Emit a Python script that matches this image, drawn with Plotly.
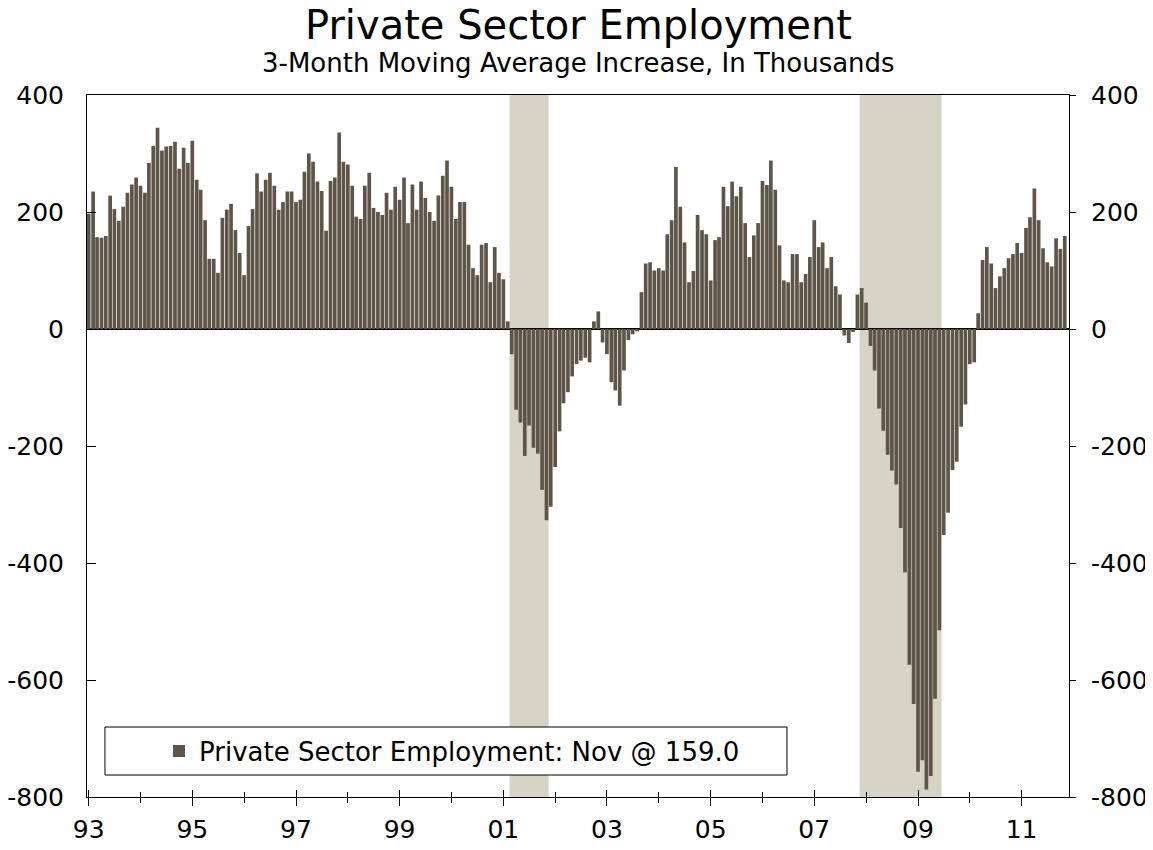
import plotly.graph_objects as go
import pandas as pd

# monthly 3-month moving average change, thousands (Jan 1993 - Nov 2011)
y1993 = [197, 235, 157, 156, 159, 228, 205, 185, 209, 233, 247, 259]
y1994 = [245, 233, 284, 313, 344, 305, 312, 313, 320, 274, 310, 284]
y1995 = [322, 255, 238, 186, 120, 120, 96, 190, 204, 214, 169, 130]
y1996 = [92, 176, 205, 266, 235, 255, 267, 245, 204, 217, 235, 235]
y1997 = [217, 221, 269, 300, 286, 252, 236, 168, 253, 259, 336, 286]
y1998 = [281, 245, 192, 188, 245, 267, 207, 200, 195, 233, 204, 243]
y1999 = [221, 259, 181, 247, 204, 252, 224, 200, 185, 228, 262, 288]
y2000 = [243, 188, 217, 217, 144, 104, 92, 144, 147, 80, 140, 96]
y2001 = [85, 13, -43, -138, -160, -217, -165, -203, -213, -275, -327, -304]
y2002 = [-236, -175, -127, -108, -81, -60, -54, -49, -57, 13, 30, -23]
y2003 = [-43, -91, -105, -131, -71, -19, -9, -4, 63, 112, 114, 100]
y2004 = [104, 100, 162, 186, 277, 209, 148, 80, 99, 195, 169, 162]
y2005 = [83, 152, 157, 243, 210, 252, 227, 243, 181, 123, 160, 181]
y2006 = [253, 246, 288, 238, 143, 83, 80, 128, 128, 80, 94, 123]
y2007 = [186, 140, 148, 104, 123, 73, 59, -11, -24, -5, 59, 70]
y2008 = [45, -29, -71, -136, -174, -215, -242, -266, -340, -416, -574, -641]
y2009 = [-757, -737, -787, -764, -632, -515, -352, -314, -241, -227, -167, -129]
y2010 = [-60, -57, 27, 118, 140, 112, 70, 90, 104, 121, 128, 147]
y2011 = [130, 173, 191, 240, 186, 138, 114, 107, 155, 137, 159]

# recessions (first and last month)
rec_start = ["2001-03", "2007-12"]
rec_end = ["2001-11", "2009-06"]

# y tick labels use a plain hyphen like the original
y_ticks = [400, 200, 0, -200, -400, -600, -800]
y_labels = ["400", "200", "0", "-200", "-400", "-600", "-800"]

values = (y1993 + y1994 + y1995 + y1996 + y1997 + y1998 + y1999 + y2000 + y2001 + y2002
          + y2003 + y2004 + y2005 + y2006 + y2007 + y2008 + y2009 + y2010 + y2011)
months = pd.date_range("1993-01-01", periods=len(values), freq="MS")

bar_color = "#5E5448"
shade = "#D7D3C7"
font = "DejaVu Sans"
day = 24 * 3600 * 1000

fig = go.Figure()
fig.add_trace(go.Bar(x=months, y=values, marker_color=bar_color, marker_line_width=0,
                     width=[26 * day] * len(values),
                     name="Private Sector Employment: Nov @ 159.0"))
# invisible copy so the right-hand axis and inner ticks get drawn
fig.add_trace(go.Scatter(x=months, y=values, xaxis="x2", yaxis="y2", mode="lines",
                         line=dict(width=0), opacity=0, showlegend=False, hoverinfo="skip"))

for s, e in zip(rec_start, rec_end):
    x0 = pd.Timestamp(s + "-01") - pd.Timedelta(days=15)
    x1 = pd.Timestamp(e + "-01") + pd.Timedelta(days=15)
    fig.add_shape(type="rect", xref="x", yref="paper", x0=x0, x1=x1, y0=0, y1=1,
                  fillcolor=shade, line_width=0, layer="below")

# legend box
fig.add_shape(type="rect", xref="paper", yref="paper", x0=0.0183, x1=0.7128, y0=0.0313, y1=0.0997,
              fillcolor="white", line=dict(color="black", width=1), layer="above")

xr = ["1992-12-20", "2011-12-01"]
fig.update_layout(
    width=1145, height=842,
    margin=dict(l=79, r=84, t=87, b=53),
    plot_bgcolor="white", paper_bgcolor="white",
    font=dict(family=font, size=25, color="black"),
    showlegend=True,
    legend=dict(x=0.3717, y=0.0655, xanchor="center", yanchor="middle",
                bgcolor="rgba(0,0,0,0)", font=dict(size=26)),
    xaxis=dict(type="date", range=xr, tick0="1993-01-01", dtick="M24", tickformat="%y",
               ticks="outside", ticklen=8, tickcolor="black", showline=True, linecolor="black",
               mirror=True, showgrid=False, zeroline=False, automargin=False,
               ticklabelstandoff=2,
               minor=dict(dtick="M12", tick0="1993-01-01", ticks="outside", ticklen=5,
                          tickcolor="black", showgrid=False)),
    xaxis2=dict(type="date", range=xr, overlaying="x", anchor="y2", side="bottom",
                tick0="1993-01-01", dtick="M24", ticks="inside", ticklen=7, tickcolor="black",
                showticklabels=False, showgrid=False, showline=False, zeroline=False,
                automargin=False,
                minor=dict(dtick="M12", tick0="1993-01-01", ticks="inside", ticklen=5,
                           tickcolor="black", showgrid=False)),
    yaxis=dict(range=[-800, 400], tickvals=y_ticks, ticktext=y_labels, ticks="inside",
               ticklen=9, tickcolor="black", showline=True, linecolor="black", showgrid=False,
               zeroline=True, zerolinecolor="black", zerolinewidth=1.5, ticklabelstandoff=17,
               automargin=False),
    yaxis2=dict(range=[-800, 400], tickvals=y_ticks, ticktext=y_labels, overlaying="y",
                side="right", anchor="x", ticks="outside", ticklen=6, tickcolor="black",
                showline=True, linecolor="black", showgrid=False, zeroline=False,
                ticklabelstandoff=10, automargin=False),
    annotations=[
        dict(text="Private Sector Employment", xref="paper", yref="paper", x=0.5, y=1.0997,
             xanchor="center", yanchor="middle", showarrow=False, font=dict(size=40)),
        dict(text="3-Month Moving Average Increase, In Thousands", xref="paper", yref="paper",
             x=0.5, y=1.0456, xanchor="center", yanchor="middle", showarrow=False,
             font=dict(size=26)),
    ],
)

fig.write_html("out.html")
